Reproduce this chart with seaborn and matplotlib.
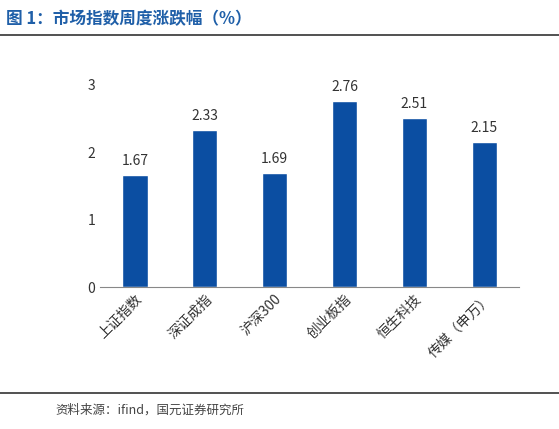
import matplotlib
matplotlib.use("Agg")
import matplotlib.pyplot as plt
import seaborn as sns
import pandas as pd

categories = ["上证指数", "深证成指", "沪深300", "创业板指", "恒生科技", "传媒（申万）"]
values = [1.67, 2.33, 1.69, 2.76, 2.51, 2.15]

sns.set_style("white")
plt.rcParams['font.family'] = ['Noto Sans CJK SC', 'DejaVu Sans']

fig = plt.figure(figsize=(5.59, 4.29), dpi=100)
ax = fig.add_axes([0.179, 0.331, 0.75, 0.471])
df = pd.DataFrame({"cat": categories, "val": values})
sns.barplot(data=df, x="cat", y="val", color="#0b4ea2", saturation=1, width=0.36, ax=ax)
ax.set_ylim(0, 3)
ax.set_yticks([0, 1, 2, 3])
ax.set_xlabel("")
ax.set_ylabel("")
for s in ["top", "right", "left"]:
    ax.spines[s].set_visible(False)
ax.spines["bottom"].set_color("#888888")
ax.tick_params(axis="y", labelsize=10, colors="#333333", length=0)
ax.tick_params(axis="x", labelsize=10, colors="#333333", length=0)
plt.setp(ax.get_xticklabels(), rotation=45, ha="right", rotation_mode="anchor")
for i, v in enumerate(values):
    ax.text(i, v + 0.1, f"{v:.2f}", ha="center", va="bottom", fontsize=10, color="#333333")

fig.text(0.01, 0.955, "图 1：市场指数周度涨跌幅（%）", fontsize=12, fontweight="bold",
         color="#1f5fa8", va="center")
fig.add_artist(plt.Line2D([0.0, 1.0], [0.918, 0.918], color="#333333", lw=1.2))
fig.add_artist(plt.Line2D([0.0, 1.0], [0.083, 0.083], color="#333333", lw=1.2))
fig.text(0.1, 0.045, "资料来源：ifind，国元证券研究所", fontsize=9, color="#444444", va="center")

fig.savefig("out.png", dpi=100)
